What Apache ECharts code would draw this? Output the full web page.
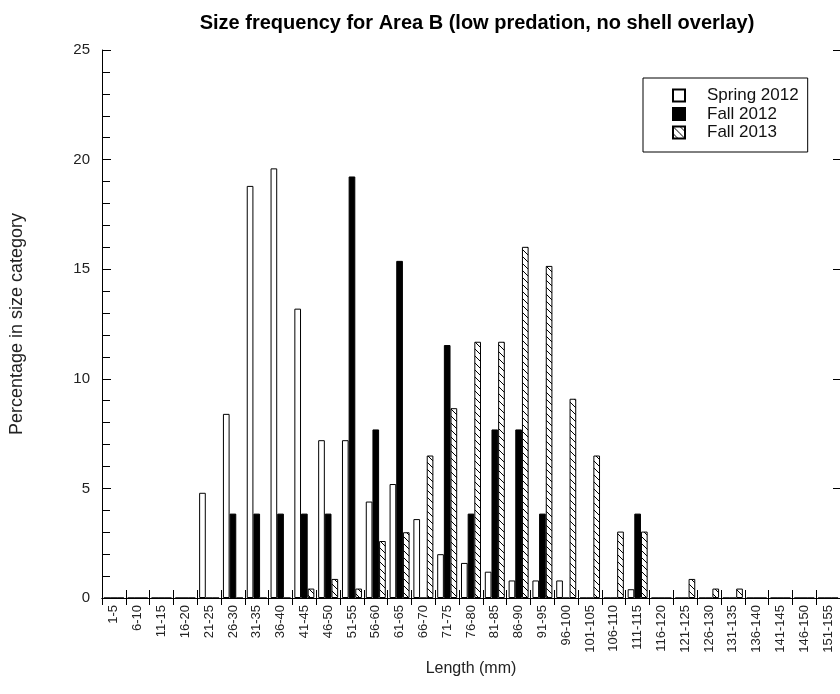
<!DOCTYPE html>
<html>
<head>
<meta charset="utf-8">
<script src="https://cdn.jsdelivr.net/npm/echarts@6/dist/echarts.min.js"></script>
<style>
  html, body { margin: 0; padding: 0; background: #fff; }
  #chart { width: 840px; height: 694px; }
</style>
</head>
<body>
<div id="chart"></div>
<script>
// Length classes (mm)
const sizeClasses = ['1-5','6-10','11-15','16-20','21-25','26-30','31-35','36-40','41-45','46-50',
  '51-55','56-60','61-65','66-70','71-75','76-80','81-85','86-90','91-95','96-100',
  '101-105','106-110','111-115','116-120','121-125','126-130','131-135','136-140','141-145','146-150','151-155'];

// Percentage of animals in each length class
const spring2012 = [0,0,0,0,4.8,8.4,18.8,19.6,13.2,7.2,
  7.2,4.4,5.2,3.6,2.0,1.6,1.2,0.8,0.8,0.8,
  0,0,0.4,0,0,0,0,0,0,0,0];
const fall2012 = [0,0,0,0,0,3.85,3.85,3.85,3.85,3.85,
  19.23,7.69,15.38,0,11.54,3.85,7.69,7.69,3.85,0,
  0,0,3.85,0,0,0,0,0,0,0,0];
const fall2013 = [0,0,0,0,0,0,0,0,0.43,0.87,
  0.43,2.6,3.0,6.5,8.66,11.69,11.69,16.02,15.15,9.09,
  6.5,3.03,3.03,0,0.87,0.43,0.43,0,0,0,0];

const yTicks = { min: 0, max: 25, step: 5 };

const FONT = '"Liberation Sans", Arial, sans-serif';

// diagonal hatch fill ("\" direction) for the Fall 2013 bars
function hatchPattern() {
  const s = 7;
  const c = document.createElement('canvas');
  c.width = s; c.height = s;
  const g = c.getContext('2d');
  g.fillStyle = '#fff';
  g.fillRect(0, 0, s, s);
  g.strokeStyle = '#000';
  g.lineWidth = 1;
  g.beginPath();
  g.moveTo(-1, -1); g.lineTo(s + 1, s + 1);
  g.moveTo(-1, s - 1); g.lineTo(1, s + 1);
  g.moveTo(s - 1, -1); g.lineTo(s + 1, 1);
  g.stroke();
  return c;
}

const chart = echarts.init(document.getElementById('chart'), null, { renderer: 'canvas' });

const axisLine = { show: true, lineStyle: { color: '#000', width: 1 } };

chart.setOption({
  animation: false,
  backgroundColor: '#fff',
  title: {
    text: 'Size frequency for Area B (low predation, no shell overlay)',
    left: 472,
    top: 8,
    textAlign: 'center',
    textStyle: { fontFamily: FONT, fontWeight: 'bold', fontSize: 20, color: '#000' }
  },
  legend: {
    orient: 'vertical',
    left: 643,
    top: 78,
    padding: [9, 9, 11, 29],
    itemWidth: 12,
    itemHeight: 12,
    itemGap: 1.5,
    borderColor: '#000',
    borderWidth: 1,
    icon: 'rect',
    textStyle: { fontFamily: FONT, fontSize: 17, color: '#111', padding: [0, 0, 0, 17] },
    data: ['Spring 2012', 'Fall 2012', 'Fall 2013']
  },
  grid: { left: 102, right: -2, top: 50, bottom: 96, containLabel: false },
  xAxis: [
    {
      type: 'category',
      data: sizeClasses,
      position: 'bottom',
      axisLine: axisLine,
      axisTick: { show: true, inside: true, length: 8, interval: 0, alignWithLabel: false, lineStyle: { color: '#000' } },
      axisLabel: { interval: 0, rotate: 90, margin: 7, fontFamily: FONT, fontSize: 13, color: '#222' },
      name: 'Length (mm)',
      nameLocation: 'middle',
      nameGap: 62,
      nameTextStyle: { fontFamily: FONT, fontSize: 16, color: '#222' }
    },
    {
      type: 'category',
      data: sizeClasses,
      position: 'top',
      axisLine: axisLine,
      axisTick: { show: true, inside: true, length: 7, interval: 0, lineStyle: { color: '#000' } },
      axisLabel: { show: false }
    }
  ],
  yAxis: [
    {
      type: 'value',
      min: yTicks.min,
      max: yTicks.max,
      interval: yTicks.step,
      position: 'left',
      axisLine: axisLine,
      axisTick: { show: true, inside: true, length: 9, lineStyle: { color: '#000' } },
      minorTick: { show: true, splitNumber: 5, length: 8, lineStyle: { color: '#000' } },
      splitLine: { show: false },
      axisLabel: { margin: 12, fontFamily: FONT, fontSize: 15, color: '#222' },
      name: 'Percentage in size category',
      nameLocation: 'middle',
      nameGap: 76,
      nameRotate: 90,
      nameTextStyle: { fontFamily: FONT, fontSize: 18, color: '#222' }
    },
    {
      type: 'value',
      min: yTicks.min,
      max: yTicks.max,
      interval: yTicks.step,
      position: 'right',
      axisLine: axisLine,
      axisTick: { show: true, inside: true, length: 7, lineStyle: { color: '#000' } },
      splitLine: { show: false },
      axisLabel: { show: false }
    }
  ],
  series: [
    {
      name: 'Spring 2012',
      type: 'bar',
      data: spring2012,
      barGap: '0%',
      barCategoryGap: '16%',
      itemStyle: { color: '#fff', borderColor: '#000', borderWidth: 1 }
    },
    {
      name: 'Fall 2012',
      type: 'bar',
      data: fall2012,
      barGap: '0%',
      barCategoryGap: '16%',
      itemStyle: { color: '#000', borderColor: '#000', borderWidth: 1 }
    },
    {
      name: 'Fall 2013',
      type: 'bar',
      data: fall2013,
      barGap: '0%',
      barCategoryGap: '16%',
      itemStyle: { color: { image: hatchPattern(), repeat: 'repeat' }, borderColor: '#000', borderWidth: 1 }
    }
  ]
});
</script>
</body>
</html>
